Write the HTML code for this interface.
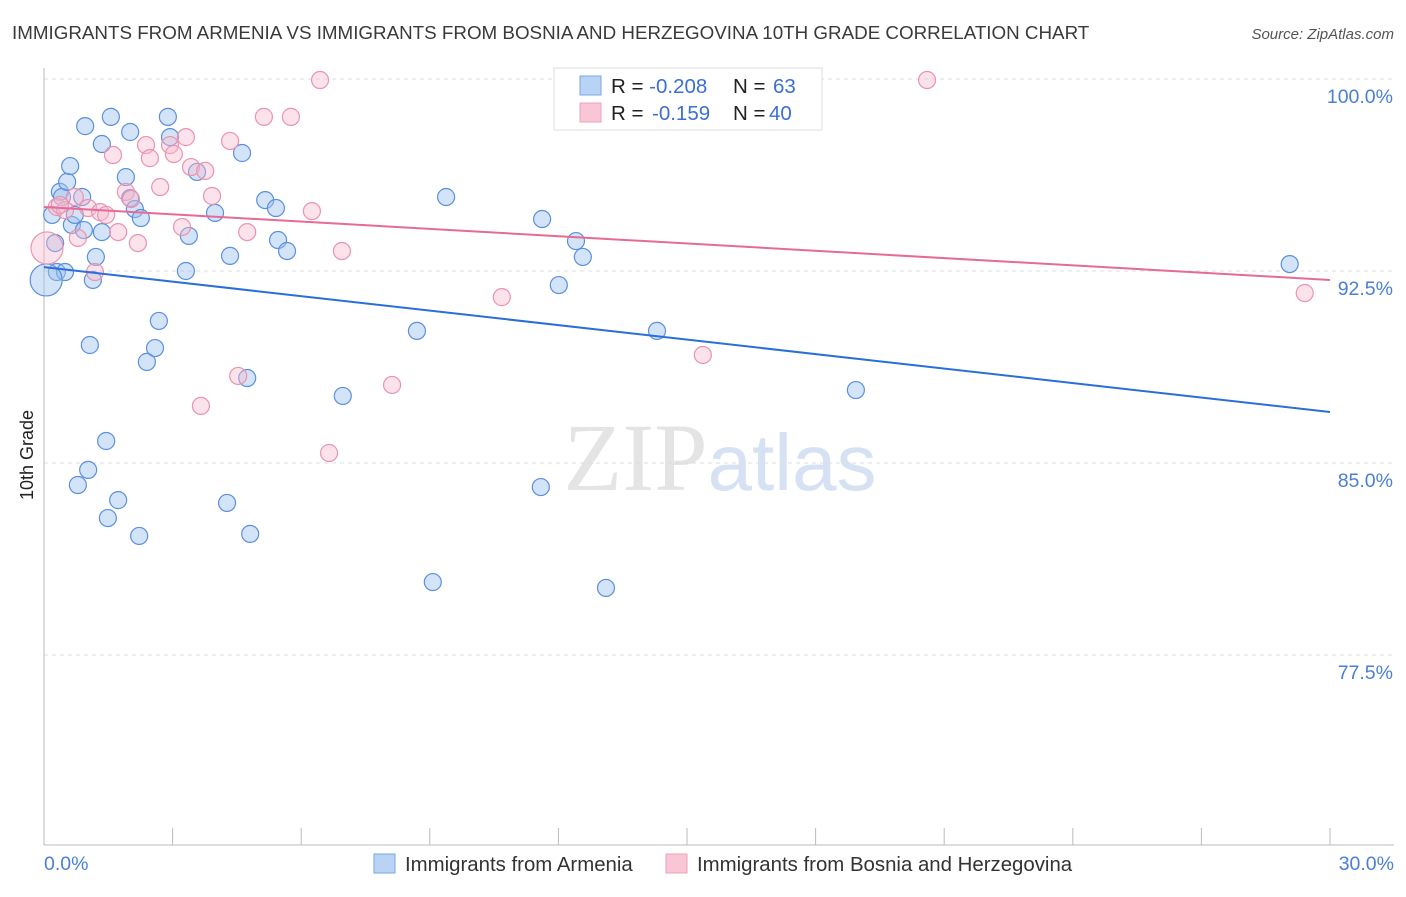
<!DOCTYPE html>
<html><head><meta charset="utf-8"><style>
body{margin:0;background:#fff;font-family:"Liberation Sans",sans-serif}
svg text{font-family:"Liberation Sans",sans-serif}
</style></head><body>
<svg id="chart" width="1406" height="892" xmlns="http://www.w3.org/2000/svg">
<text x="12" y="39" font-size="18.8" fill="#3a3a3a">IMMIGRANTS FROM ARMENIA VS IMMIGRANTS FROM BOSNIA AND HERZEGOVINA 10TH GRADE CORRELATION CHART</text>
<text x="1394" y="39" font-size="15" fill="#555" font-style="italic" text-anchor="end">Source: ZipAtlas.com</text>
<text x="33" y="455" font-size="18" fill="#222" transform="rotate(-90 33 455)" text-anchor="middle">10th Grade</text>
<text x="720" y="490" font-size="96" fill="#e4e4e4" text-anchor="middle" font-family="Liberation Serif"><tspan font-family="Liberation Serif">ZIP</tspan><tspan fill="#d6e2f4" font-size="80">atlas</tspan></text>
<g id="grid"></g><g id="axes"></g><g id="pts"></g><g id="lines"></g>
<g>
<rect x="554" y="68" width="268" height="62" fill="#fff" stroke="#ddd"/>
<rect x="580" y="76" width="21" height="19" fill="#b9d3f5" stroke="#7aa6e6"/>
<rect x="580" y="103" width="21" height="19" fill="#f9c6d5" stroke="#eea0b8"/>
<text x="611" y="93" font-size="20.5" fill="#222">R = <tspan fill="#3b6fd6">-0.208</tspan><tspan x="733">N = </tspan><tspan x="773" fill="#3b6fd6">63</tspan></text>
<text x="611" y="120" font-size="20.5" fill="#222">R = <tspan x="652" fill="#3b6fd6">-0.159</tspan><tspan x="733">N = </tspan><tspan x="769" fill="#3b6fd6">40</tspan></text>
</g>
<g>
<rect x="374" y="854" width="21" height="19" fill="#b9d3f5" stroke="#7aa6e6"/>
<text x="405" y="871" font-size="20.4" fill="#333">Immigrants from Armenia</text>
<rect x="666" y="854" width="21" height="19" fill="#f9c6d5" stroke="#eea0b8"/>
<text x="697" y="871" font-size="20.4" fill="#333">Immigrants from Bosnia and Herzegovina</text>
</g>
</svg>
<script>
const blueX=[0.19,0.26,0.30,0.37,0.42,0.54,0.49,0.61,0.65,0.72,0.89,0.93,0.96,1.03,0.79,1.07,1.14,1.21,1.35,1.35,1.45,1.49,1.56,1.73,1.91,2.01,2.01,2.12,2.22,2.26,2.40,2.59,2.68,2.89,2.94,3.31,3.38,3.57,3.99,4.27,4.34,4.62,4.74,4.81,5.16,5.41,5.46,5.67,6.97,8.70,9.07,9.38,11.59,11.62,12.01,12.41,12.57,13.11,14.30,18.94,29.06,0.05];
const blueY=[94.69,93.59,92.46,95.59,95.39,95.98,92.46,96.60,94.30,94.69,95.39,94.10,98.16,84.73,84.14,89.61,92.15,93.05,97.46,94.02,85.86,82.85,98.52,83.55,96.17,97.93,95.35,94.92,82.15,94.57,88.95,89.49,90.55,98.52,97.73,92.50,93.87,96.37,94.77,83.44,93.09,97.11,88.32,82.23,95.27,94.96,93.71,93.28,87.62,90.16,80.35,95.39,84.06,94.53,91.95,93.67,93.05,80.12,90.16,87.85,92.77,92.15];
const pinkX=[6.44,20.60,5.13,5.76,4.34,3.31,2.94,2.38,1.61,2.47,3.03,3.43,3.76,2.71,1.91,2.03,3.92,0.30,0.72,1.03,1.31,1.45,0.49,0.79,1.73,2.19,3.22,4.74,6.25,6.95,1.19,10.68,15.37,4.53,8.12,3.66,6.65,29.41,0.07,0.37];
const pinkY=[99.96,99.96,98.52,98.52,97.58,97.73,97.42,97.42,97.03,96.91,97.07,96.56,96.41,95.78,95.59,95.31,95.43,95.00,95.39,94.96,94.80,94.69,94.88,93.79,94.02,93.59,94.22,94.02,94.84,93.28,92.46,91.48,89.22,88.40,88.05,87.23,85.39,91.64,93.40,95.08];
const yTicks=[100,92.5,85,77.5];
const yTickLabels=["100.0%","92.5%","85.0%","77.5%"];
const blueTrend=[92.65,86.99];
const pinkTrend=[95.00,92.15];
const NS="http://www.w3.org/2000/svg";
const sx=v=>44+v*(1330-44)/30;
const sy=v=>79+(100-v)*25.6;
function mk(tag,attrs,parent){const e=document.createElementNS(NS,tag);for(const k in attrs)e.setAttribute(k,attrs[k]);document.getElementById(parent).appendChild(e);return e;}
yTicks.forEach((t,i)=>{
  const g=mk('line',{x1:44,x2:1394,y1:sy(t),y2:sy(t),stroke:'#ddd','stroke-dasharray':'4,4'},'grid');
  
  
  const tx=mk('text',{x:1393,y:sy(t)+24,'font-size':19.5,fill:'#4a7fd4','text-anchor':'end'},'grid');
  tx.textContent=yTickLabels[i];
  
  
});
const ya=mk('line',{x1:44,x2:44,y1:68,y2:845,stroke:'#bbb'},'axes');


const xa=mk('line',{x1:44,x2:1394,y1:845,y2:845,stroke:'#bbb'},'axes');


for(let i=0;i<=10;i++){
  const t=mk('line',{x1:sx(i*3),x2:sx(i*3),y1:828,y2:845,stroke:'#bbb'},'axes');
  
  
}
const xl0=mk('text',{x:44,y:870,'font-size':19.5,fill:'#4a7fd4'},'axes');xl0.textContent='0.0%';


const xl1=mk('text',{x:1394,y:870,'font-size':19.5,fill:'#4a7fd4','text-anchor':'end'},'axes');xl1.textContent='30.0%';


blueX.forEach((x,i)=>{
  const c=mk('circle',{cx:sx(x),cy:sy(blueY[i]),r:i===blueX.length-1?16:8.5,fill:'rgba(160,195,240,0.45)',stroke:'#5b8fdf','stroke-width':1.2},'pts');
  
  
});
pinkX.forEach((x,i)=>{
  const c=mk('circle',{cx:sx(x),cy:sy(pinkY[i]),r:i===pinkX.length-2?16:8.5,fill:'rgba(248,185,205,0.4)',stroke:'#eb93ae','stroke-width':1.2},'pts');
  
  
});
const bl=mk('line',{x1:sx(0),y1:sy(blueTrend[0]),x2:sx(30),y2:sy(blueTrend[1]),stroke:'#2a6fd8','stroke-width':2},'lines');


const pl=mk('line',{x1:sx(0),y1:sy(pinkTrend[0]),x2:sx(30),y2:sy(pinkTrend[1]),stroke:'#e66a94','stroke-width':2},'lines');


</script>
</body></html>
